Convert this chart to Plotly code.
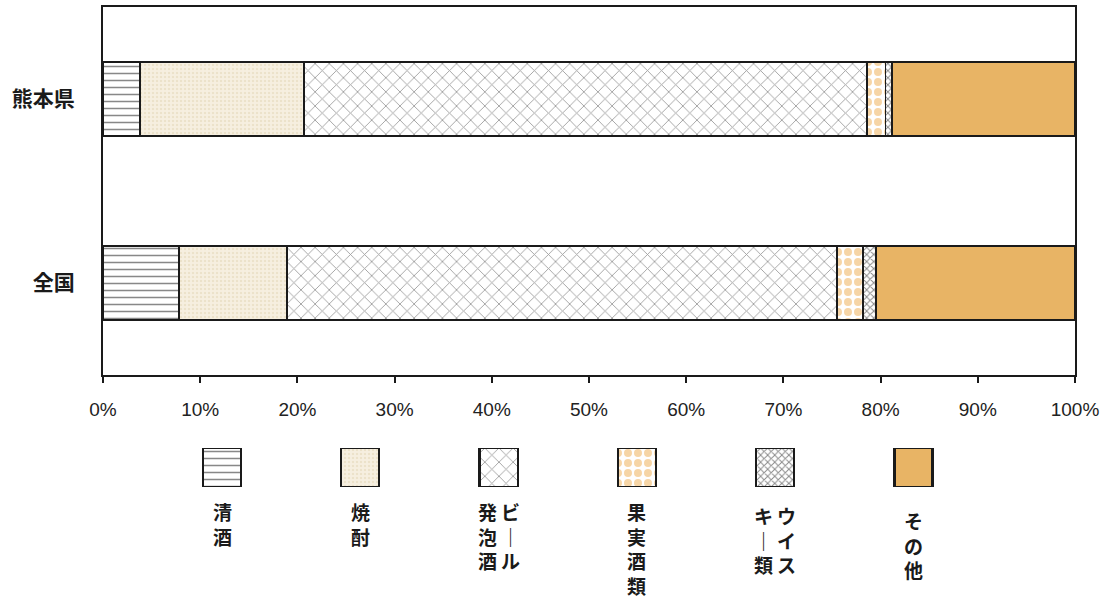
import plotly.graph_objects as go

# ---------------- data ----------------
regions = ["熊本県", "全国"]
categories = ["清酒", "焼酎", "ビール・発泡酒", "果実酒類", "ウイスキー類", "その他"]
kumamoto = [3.8, 16.9, 57.9, 1.9, 0.7, 18.8]
zenkoku = [7.8, 11.1, 56.6, 2.7, 1.3, 20.5]
tick_vals = [0, 10, 20, 30, 40, 50, 60, 70, 80, 90, 100]
tick_text = ["0%", "10%", "20%", "30%", "40%", "50%", "60%", "70%", "80%", "90%", "100%"]
# vertical legend labels: columns from left to right
legend_columns = [["清酒"], ["焼酎"], ["発泡酒", "ビ｜ル"], ["果実酒類"], ["キ｜類", "ウイス"], ["その他"]]

# ---------------- styles ----------------
styles = [
    dict(bg="white", fg="#111111", shape="-", size=7, solidity=0.22),
    dict(bg="#f6efe0", fg="#e2d3b4", shape=".", size=4, solidity=0.3),
    dict(bg="white", fg="#3a3a3a", shape="x", size=10, solidity=0.17),
    dict(bg="white", fg="#eeac4e", shape=".", size=10, solidity=0.5),
    dict(bg="white", fg="#111111", shape="x", size=5, solidity=0.35),
    dict(bg="#e8b465", fg="#e8b465", shape="", size=8, solidity=0.3),
]
label_top_px = [497, 497, 497, 497, 501, 506]
W, H = 1107, 598
ML, MR, MT, MB = 103, 32, 7, 0
PH = H - MT - MB


def py2paper(py):
    return (H - MB - py) / PH


fig = go.Figure()

values_by_region = [kumamoto, zenkoku]
for i, cat in enumerate(categories):
    st = styles[i]
    fig.add_trace(go.Bar(
        y=regions,
        x=[vals[i] for vals in values_by_region],
        orientation="h",
        name=cat,
        width=0.4,
        marker=dict(
            color=st["bg"],
            line=dict(color="#1a1a1a", width=1.6),
            pattern=dict(shape=st["shape"], fgcolor=st["fg"], bgcolor=st["bg"],
                         size=st["size"], solidity=st["solidity"], fillmode="overlay"),
        ),
        showlegend=False,
        hoverinfo="x+name",
    ))

# legend swatches drawn as bars on a second axis pair
for i, cat in enumerate(categories):
    st = styles[i]
    fig.add_trace(go.Bar(
        x=[i], y=[1], xaxis="x2", yaxis="y2", width=0.275,
        marker=dict(
            color=st["bg"],
            line=dict(color="#1a1a1a", width=2.2),
            pattern=dict(shape=st["shape"], fgcolor=st["fg"], bgcolor=st["bg"],
                         size=st["size"], solidity=st["solidity"], fillmode="overlay"),
        ),
        showlegend=False, hoverinfo="skip",
    ))

annotations = []
col_gap = 0.165
for i, cols in enumerate(legend_columns):
    n = len(cols)
    for c, col in enumerate(cols):
        xoff = (c - (n - 1) / 2) * col_gap
        annotations.append(dict(
            x=i + xoff, xref="x2",
            y=py2paper(label_top_px[i]), yref="paper",
            yanchor="top", xanchor="center",
            text="<br>".join(col), showarrow=False, borderpad=0,
            font=dict(family="Noto Sans CJK JP", size=19, color="#1a1a1a", weight="bold"),
        ))

fig.update_layout(
    width=W, height=H,
    margin=dict(l=ML, r=MR, t=MT, b=MB),
    paper_bgcolor="white", plot_bgcolor="white",
    barmode="stack",
    bargap=0.6,
    annotations=annotations,
    xaxis=dict(
        range=[0, 100], tickvals=tick_vals, ticktext=tick_text,
        showline=True, linecolor="#1a1a1a", linewidth=2, mirror=True,
        ticks="outside", ticklen=6, tickcolor="#1a1a1a", tickwidth=1.5,
        showgrid=False, zeroline=False,
        tickfont=dict(family="Liberation Sans Narrow, Liberation Sans, Arial", size=19, color="#222222"),
        ticklabelstandoff=10,
        anchor="y",
    ),
    yaxis=dict(
        domain=[py2paper(375), 1],
        categoryorder="array", categoryarray=regions,
        range=[1.5, -0.5],
        showline=True, linecolor="#1a1a1a", linewidth=2, mirror=True,
        ticks="", showgrid=False, zeroline=False,
        tickfont=dict(family="Noto Sans CJK JP", size=21, color="#1a1a1a", weight="bold"),
        ticklabelstandoff=22,
    ),
    xaxis2=dict(
        domain=[0, 1], anchor="y2",
        range=[-(222 - 103) / 138.3, 5 + (1075 - 913.5) / 138.3],
        visible=False, fixedrange=True,
    ),
    yaxis2=dict(
        domain=[py2paper(487), py2paper(448)], anchor="x2",
        range=[0, 1], visible=False, fixedrange=True,
    ),
)

fig.write_html(
    "out.html",
    config={"displayModeBar": False},
    post_script="document.body.style.margin='0px';document.body.style.overflow='hidden';",
)
